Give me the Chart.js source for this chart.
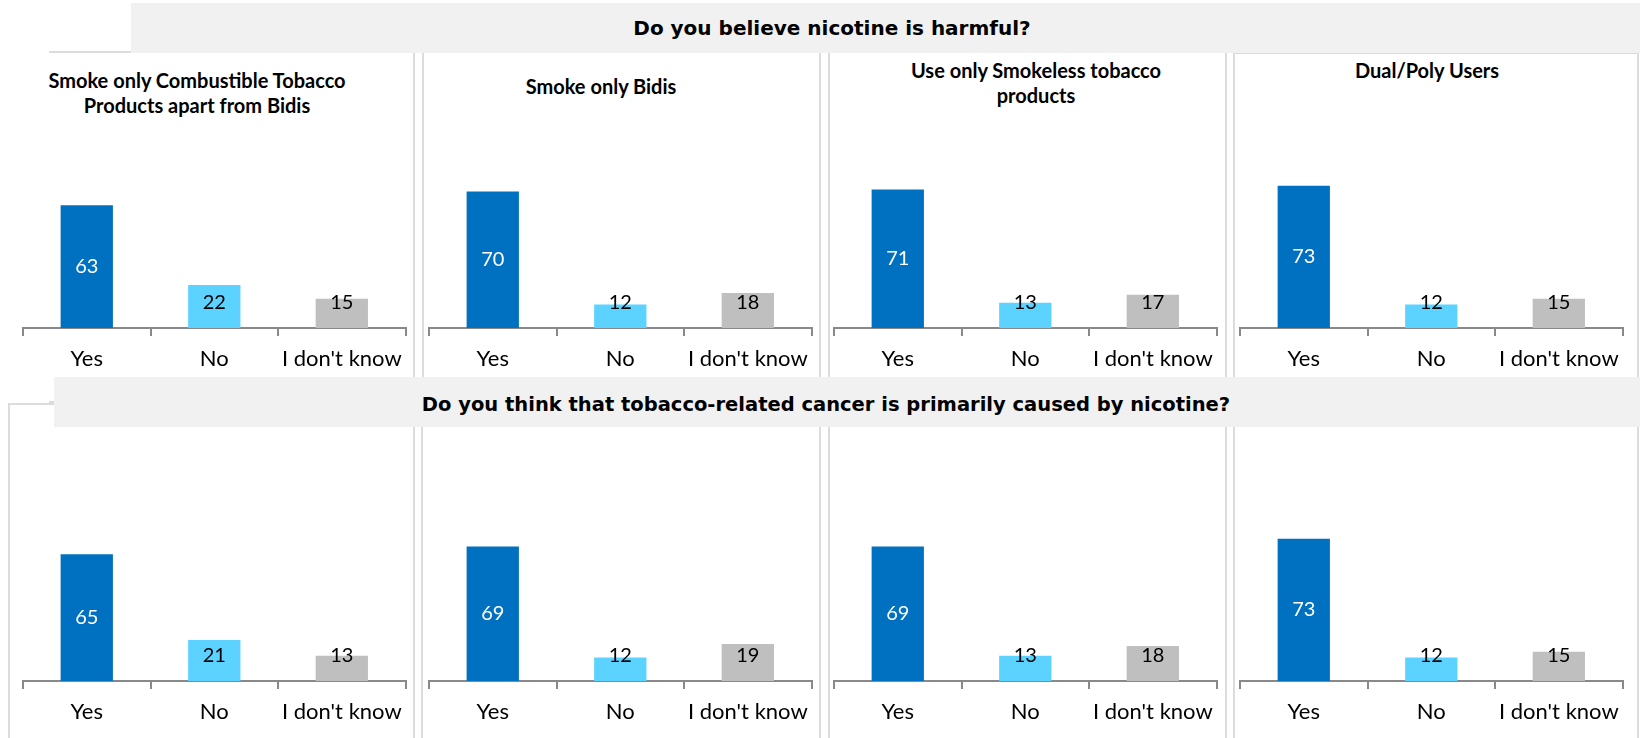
<!DOCTYPE html>
<html>
<head>
<meta charset="utf-8">
<script src="https://cdn.jsdelivr.net/npm/chart.js@4.4.1/dist/chart.umd.min.js"></script>
<style>
  html, body { margin: 0; padding: 0; background: #ffffff; }
  body { width: 1640px; height: 738px; overflow: hidden; position: relative; font-family: Lato, sans-serif; }
  .band { position: absolute; background: #F1F1F1; }
  .qtitle { position: absolute; font-family: "DejaVu Sans", sans-serif; font-weight: bold; color: #000; transform: translate(-50%, -50%); white-space: nowrap; }
  .frame { position: absolute; border: 2px solid #DCDCDC; box-sizing: border-box; }
  .pclip { position: absolute; overflow: hidden; }
  .ptitle { position: absolute; font: bold 20px Lato, sans-serif; color: #000; text-align: center; line-height: 25px; transform: translate(-50%, -50%); white-space: pre; }
  canvas.chart { position: absolute; }
</style>
</head>
<body>
<script>
// Answer categories shared by every panel
const categories = ['Yes', 'No', "I don't know"];

// User groups (one panel per group)
const groupNames = [
  'Smoke only Combustible Tobacco\nProducts apart from Bidis',
  'Smoke only Bidis',
  'Use only Smokeless tobacco\nproducts',
  'Dual/Poly Users'
];

// Questions
const questionHarmful = 'Do you believe nicotine is harmful?';
const questionCancer = 'Do you think that tobacco-related cancer is primarily caused by nicotine?';

// Percentages: "Do you believe nicotine is harmful?"
const harmfulCombustible = [63, 22, 15];
const harmfulBidis       = [70, 12, 18];
const harmfulSmokeless   = [71, 13, 17];
const harmfulDualPoly    = [73, 12, 15];

// Percentages: "Is tobacco-related cancer primarily caused by nicotine?"
const cancerCombustible = [65, 21, 13];
const cancerBidis       = [69, 12, 19];
const cancerSmokeless   = [69, 13, 18];
const cancerDualPoly    = [73, 12, 15];

const barColors = ['#0070C0', '#5BD2FF', '#BFBFBF'];

// ---- page layout ----
const AXIS_LEFTS = [23, 429, 834, 1240];
const AXIS_WIDTH = 387;
const PLOT_H = 195;
const AXIS_H = 46;
const ROW_AXIS_Y = [328, 681];

function addDiv(cls, style, text) {
  const d = document.createElement('div');
  d.className = cls;
  Object.assign(d.style, style);
  if (text !== undefined) d.textContent = text;
  document.body.appendChild(d);
  return d;
}

// panel frames (top row)
addDiv('frame', { left: '49px', top: '51px', width: '366px', height: '352px', borderLeft: 'none' });
addDiv('frame', { left: '422px', top: '45px', width: '399px', height: '358px' });
addDiv('frame', { left: '828px', top: '45px', width: '399px', height: '358px' });
addDiv('frame', { left: '1233px', top: '52px', width: '406px', height: '340px' });
// panel frames (bottom row)
addDiv('frame', { left: '8px', top: '403px', width: '407px', height: '360px' });
addDiv('frame', { left: '421px', top: '404px', width: '400px', height: '360px' });
addDiv('frame', { left: '828px', top: '404px', width: '399px', height: '360px' });
addDiv('frame', { left: '1233px', top: '404px', width: '406px', height: '360px' });

// question bands
addDiv('band', { left: '131px', top: '3px', width: '1509px', height: '50px' });
addDiv('qtitle', { left: '832px', top: '28px', fontSize: '20px' }, questionHarmful);
addDiv('band', { left: '54px', top: '377px', width: '1586px', height: '50px' });
addDiv('qtitle', { left: '826px', top: '404px', fontSize: '19.5px' }, questionCancer);

// group titles above the top row
const titleSpots = [
  { clipLeft: 49, cx: 197, cy: 93 },
  { clipLeft: 424, cx: 601, cy: 86 },
  { clipLeft: 830, cx: 1036, cy: 83 },
  { clipLeft: 1235, cx: 1427, cy: 70 }
];
titleSpots.forEach((s, i) => {
  const clip = addDiv('pclip', { left: s.clipLeft + 'px', top: '56px', width: '390px', height: '70px' });
  const t = document.createElement('div');
  t.className = 'ptitle';
  t.style.left = (s.cx - s.clipLeft) + 'px';
  t.style.top = (s.cy - 56) + 'px';
  t.textContent = groupNames[i];
  clip.appendChild(t);
});

// value labels drawn on the bars
const valueLabels = {
  id: 'valueLabels',
  afterDatasetsDraw(chart) {
    const ctx = chart.ctx;
    const meta = chart.getDatasetMeta(0);
    const values = chart.data.datasets[0].data;
    ctx.save();
    ctx.font = '20px Lato, sans-serif';
    ctx.textAlign = 'center';
    ctx.textBaseline = 'middle';
    meta.data.forEach((bar, i) => {
      const p = bar.getProps(['x', 'y', 'base'], true);
      const y = Math.min((p.y + p.base) / 2, p.base - 25);
      ctx.fillStyle = i === 0 ? '#FFFFFF' : '#000000';
      ctx.fillText(String(values[i]), p.x, y);
    });
    ctx.restore();
  }
};

function drawPanel(values, col, row) {
  const c = document.createElement('canvas');
  c.className = 'chart';
  const pad = 2;
  c.width = AXIS_WIDTH + pad * 2;
  c.height = PLOT_H + AXIS_H;
  c.style.left = (AXIS_LEFTS[col] - pad) + 'px';
  c.style.top = (ROW_AXIS_Y[row] - PLOT_H) + 'px';
  document.body.appendChild(c);
  new Chart(c, {
    type: 'bar',
    data: {
      labels: categories,
      datasets: [{
        data: values,
        backgroundColor: barColors,
        borderWidth: 0,
        barPercentage: 0.41,
        categoryPercentage: 1
      }]
    },
    options: {
      responsive: false,
      maintainAspectRatio: false,
      animation: false,
      layout: { padding: { left: pad, right: pad, top: 0, bottom: 0 } },
      plugins: {
        legend: { display: false },
        tooltip: { enabled: false },
        title: { display: false }
      },
      scales: {
        x: {
          grid: {
            offset: true,
            drawOnChartArea: false,
            drawTicks: true,
            tickLength: 8,
            color: '#898989',
            lineWidth: 2
          },
          border: { display: true, color: '#898989', width: 2 },
          ticks: {
            color: '#000000',
            font: { family: 'Lato', size: 22 },
            padding: 10,
            maxRotation: 0,
            autoSkip: false
          },
          afterFit(scale) { scale.height = AXIS_H; }
        },
        y: { display: false, min: 0, max: 100 }
      }
    },
    plugins: [valueLabels]
  });
}

[harmfulCombustible, harmfulBidis, harmfulSmokeless, harmfulDualPoly]
  .forEach((v, i) => drawPanel(v, i, 0));
[cancerCombustible, cancerBidis, cancerSmokeless, cancerDualPoly]
  .forEach((v, i) => drawPanel(v, i, 1));
</script>
</body>
</html>
